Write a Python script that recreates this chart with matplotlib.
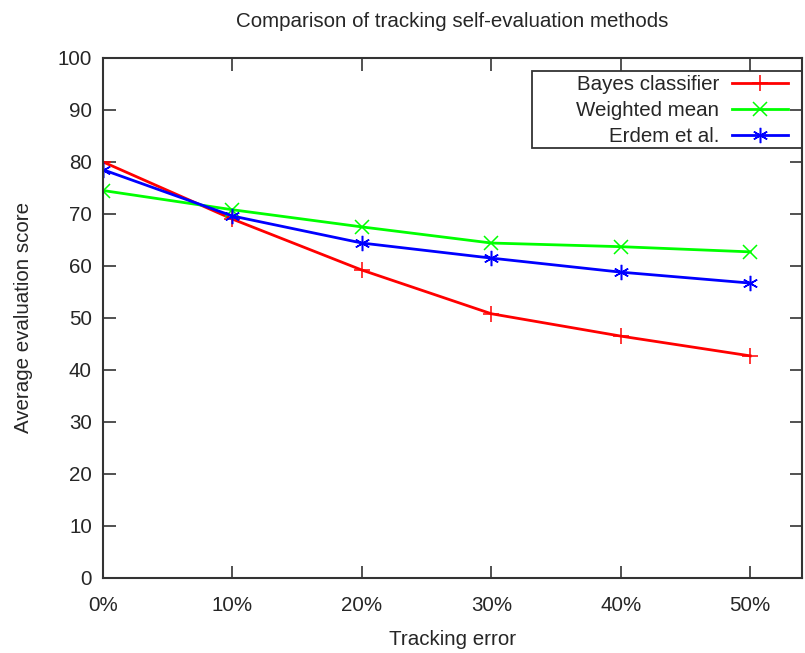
import matplotlib.pyplot as plt
from matplotlib.ticker import FuncFormatter
from matplotlib.patches import Rectangle

plt.rcParams['font.family'] = ['Liberation Sans', 'DejaVu Sans']

errors = [0.0, 0.1, 0.2, 0.3, 0.4, 0.5]
bayes = [80.0, 69.0, 59.2, 50.8, 46.5, 42.7]
weighted = [74.5, 70.8, 67.5, 64.4, 63.7, 62.7]
erdem = [78.5, 69.6, 64.4, 61.5, 58.8, 56.7]

fs = 14.8
txt = '#262626'

fig = plt.figure(figsize=(8.05, 6.53), dpi=100)
ax = fig.add_axes([0.128, 0.115, 0.8683, 0.7963])

ax.plot(errors, bayes, color='#ff0000', lw=2, marker='+', ms=11, mew=1.1, label='Bayes classifier')
ax.plot(errors, weighted, color='#00ff00', lw=2, marker='x', ms=10, mew=1.1, label='Weighted mean')
ax.plot(errors, erdem, color='#0000ff', lw=2, marker=(6, 2, 0), ms=11, mew=1.1, label='Erdem et al.')

ax.set_xlim(0, 0.54)
ax.set_ylim(0, 100)
ax.set_xticks(errors)
ax.set_yticks(range(0, 101, 10))
ax.xaxis.set_major_formatter(FuncFormatter(lambda v, p: '%d%%' % round(v * 100)))

ax.tick_params(direction='in', length=9, width=1.2, top=True, right=True,
               labelsize=fs, colors='#333333', labelcolor=txt)
ax.tick_params(axis='x', pad=13)
ax.tick_params(axis='y', pad=8)
for s in ax.spines.values():
    s.set_linewidth(1.5)
    s.set_color('#333333')

ax.set_title('Comparison of tracking self-evaluation methods', fontsize=fs, color=txt, pad=22)
ax.set_xlabel('Tracking error', fontsize=fs, color=txt, labelpad=11)
ax.set_ylabel('Average evaluation score', fontsize=fs, color=txt, labelpad=18)

# legend box like gnuplot's key (wider than its contents)
ax.add_patch(Rectangle((0.614, 0.827), 0.386, 0.148, transform=ax.transAxes,
                       fill=False, edgecolor='#333333', lw=1.3, zorder=5, clip_on=False))
leg = ax.legend(loc='upper right', bbox_to_anchor=(0.986, 0.975), markerfirst=False,
                frameon=False, fontsize=fs, borderaxespad=0, borderpad=0.2,
                handlelength=2.75, handletextpad=0.6, labelspacing=0.34)
for t in leg.get_texts():
    t.set_ha('right')
    t.set_color(txt)

fig.savefig('out.png', dpi=100)
